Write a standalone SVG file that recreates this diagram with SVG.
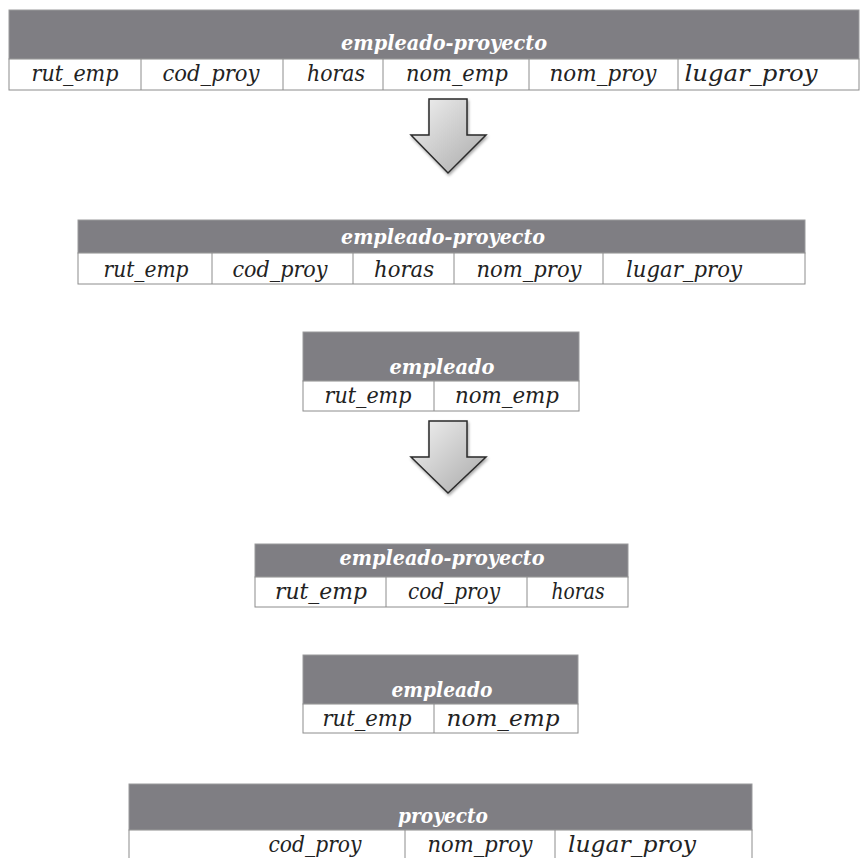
<svg xmlns="http://www.w3.org/2000/svg" width="863" height="858" viewBox="0 0 863 858">
<style>
.hd{fill:#7f7e83;stroke:#9a9a9c;stroke-width:1}
.row{fill:#ffffff;stroke:#8c8c8c;stroke-width:1}
.div{stroke:#8c8c8c;stroke-width:1}
.ht{font-family:"DejaVu Serif","Liberation Serif",serif;font-style:italic;font-weight:bold;font-size:20px;fill:#ffffff;text-anchor:middle}
.ct{font-family:"DejaVu Serif","Liberation Serif",serif;font-style:italic;font-size:22px;fill:#222222;text-anchor:middle}
.arr{fill:url(#ag);stroke:#2a2a2a;stroke-width:1.5;stroke-linejoin:miter;filter:url(#sh)}
</style>
<defs>
<linearGradient id="ag" x1="0" y1="0" x2="1" y2="1">
<stop offset="0" stop-color="#f2f2f2"/>
<stop offset="1" stop-color="#a9a9a9"/>
</linearGradient>
<filter id="sh" x="-20%" y="-20%" width="150%" height="150%">
<feGaussianBlur in="SourceAlpha" stdDeviation="1.5"/>
<feOffset dx="1" dy="2" result="b"/>
<feComponentTransfer><feFuncA type="linear" slope="0.35"/></feComponentTransfer>
<feMerge><feMergeNode/><feMergeNode in="SourceGraphic"/></feMerge>
</filter>
</defs>
<rect width="863" height="858" fill="#ffffff"/>

<g id="t1">
<rect class="hd" x="9" y="10" width="850" height="49"/>
<rect class="row" x="9" y="59" width="850" height="31"/>
<line class="div" x1="141" y1="59" x2="141" y2="90"/>
<line class="div" x1="283" y1="59" x2="283" y2="90"/>
<line class="div" x1="383" y1="59" x2="383" y2="90"/>
<line class="div" x1="529" y1="59" x2="529" y2="90"/>
<line class="div" x1="678" y1="59" x2="678" y2="90"/>
<text class="ht" x="444" y="50" textLength="206" lengthAdjust="spacingAndGlyphs">empleado-proyecto</text>
<text class="ct" x="75" y="81" textLength="87" lengthAdjust="spacingAndGlyphs">rut_emp</text>
<text class="ct" x="211" y="81" textLength="97" lengthAdjust="spacingAndGlyphs">cod_proy</text>
<text class="ct" x="336" y="81" textLength="58" lengthAdjust="spacingAndGlyphs">horas</text>
<text class="ct" x="457" y="81" textLength="102" lengthAdjust="spacingAndGlyphs">nom_emp</text>
<text class="ct" x="603" y="81" textLength="107" lengthAdjust="spacingAndGlyphs">nom_proy</text>
<text class="ct" x="751" y="81" textLength="133" lengthAdjust="spacingAndGlyphs">lugar_proy</text>
</g>

<g id="connectors">
<polygon class="arr" points="429,99 467,99 467,135 486,135 448,173 411,135 429,135"/>
<polygon class="arr" points="429,421 467,421 467,457 486,457 448,493 411,457 429,457"/>
</g>

<g id="t2">
<rect class="hd" x="78" y="220" width="727" height="33"/>
<rect class="row" x="78" y="253" width="727" height="31"/>
<line class="div" x1="212" y1="253" x2="212" y2="284"/>
<line class="div" x1="353" y1="253" x2="353" y2="284"/>
<line class="div" x1="454" y1="253" x2="454" y2="284"/>
<line class="div" x1="603" y1="253" x2="603" y2="284"/>
<text class="ht" x="443" y="244" textLength="204" lengthAdjust="spacingAndGlyphs">empleado-proyecto</text>
<text class="ct" x="146" y="277" textLength="85" lengthAdjust="spacingAndGlyphs">rut_emp</text>
<text class="ct" x="280" y="277" textLength="95" lengthAdjust="spacingAndGlyphs">cod_proy</text>
<text class="ct" x="404" y="277" textLength="60" lengthAdjust="spacingAndGlyphs">horas</text>
<text class="ct" x="529" y="277" textLength="105" lengthAdjust="spacingAndGlyphs">nom_proy</text>
<text class="ct" x="684" y="277" textLength="116" lengthAdjust="spacingAndGlyphs">lugar_proy</text>
</g>

<g id="t3">
<rect class="hd" x="303" y="332" width="276" height="49"/>
<rect class="row" x="303" y="381" width="276" height="30"/>
<line class="div" x1="434" y1="381" x2="434" y2="411"/>
<text class="ht" x="442" y="374" textLength="105" lengthAdjust="spacingAndGlyphs">empleado</text>
<text class="ct" x="368" y="403" textLength="87" lengthAdjust="spacingAndGlyphs">rut_emp</text>
<text class="ct" x="507" y="403" textLength="104" lengthAdjust="spacingAndGlyphs">nom_emp</text>
</g>

<g id="t4">
<rect class="hd" x="255" y="544" width="373" height="33"/>
<rect class="row" x="255" y="577" width="373" height="30"/>
<line class="div" x1="386" y1="577" x2="386" y2="607"/>
<line class="div" x1="527" y1="577" x2="527" y2="607"/>
<text class="ht" x="442" y="565" textLength="205" lengthAdjust="spacingAndGlyphs">empleado-proyecto</text>
<text class="ct" x="321" y="599" textLength="92" lengthAdjust="spacingAndGlyphs">rut_emp</text>
<text class="ct" x="454" y="599" textLength="92" lengthAdjust="spacingAndGlyphs">cod_proy</text>
<text class="ct" x="578" y="599" textLength="53" lengthAdjust="spacingAndGlyphs">horas</text>
</g>

<g id="t5">
<rect class="hd" x="303" y="655" width="275" height="49"/>
<rect class="row" x="303" y="704" width="275" height="29"/>
<line class="div" x1="434" y1="704" x2="434" y2="733"/>
<text class="ht" x="442" y="697" textLength="101" lengthAdjust="spacingAndGlyphs">empleado</text>
<text class="ct" x="367" y="726" textLength="89" lengthAdjust="spacingAndGlyphs">rut_emp</text>
<text class="ct" x="503" y="726" textLength="113" lengthAdjust="spacingAndGlyphs">nom_emp</text>
</g>

<g id="t6">
<rect class="hd" x="129" y="784" width="623" height="46"/>
<rect class="row" x="129" y="830" width="623" height="32"/>
<line class="div" x1="405" y1="830" x2="405" y2="862"/>
<line class="div" x1="555" y1="830" x2="555" y2="862"/>
<text class="ht" x="443" y="823" textLength="90" lengthAdjust="spacingAndGlyphs">proyecto</text>
<text class="ct" x="315" y="852" textLength="93" lengthAdjust="spacingAndGlyphs">cod_proy</text>
<text class="ct" x="480" y="852" textLength="105" lengthAdjust="spacingAndGlyphs">nom_proy</text>
<text class="ct" x="632" y="852" textLength="128" lengthAdjust="spacingAndGlyphs">lugar_proy</text>
</g>
</svg>
